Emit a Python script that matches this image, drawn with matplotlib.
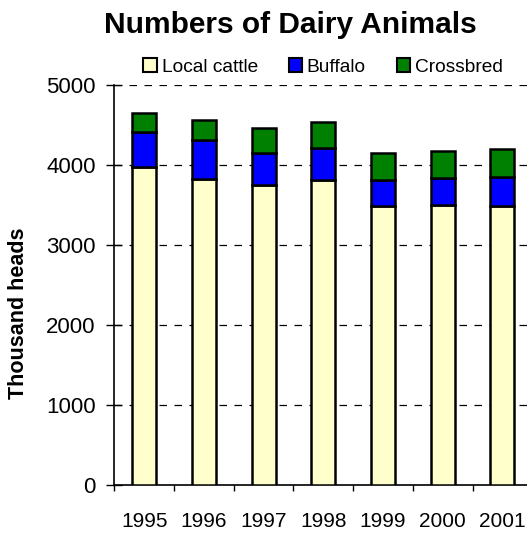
import matplotlib
matplotlib.use("Agg")
import matplotlib.pyplot as plt
import numpy as np
from matplotlib.patches import Patch

years = ["1995", "1996", "1997", "1998", "1999", "2000", "2001"]
local_cattle = [3975, 3833, 3758, 3820, 3495, 3508, 3491]
buffalo = [437, 487, 400, 396, 325, 333, 367]
crossbred = [238, 242, 308, 321, 338, 338, 342]

plt.rcParams['font.family'] = ['Liberation Sans', 'DejaVu Sans']

W, H = 527, 534
fig = plt.figure(figsize=(W/100, H/100), dpi=100)
left, right, top, bottom = 114.3, 532.3, 85.3, 485.3
ax = fig.add_axes([left/W, 1-bottom/H, (right-left)/W, (bottom-top)/H])

x = np.arange(len(years))
lc = np.array(local_cattle)
bf = np.array(buffalo)
cb = np.array(crossbred)
kw = dict(width=0.4, edgecolor='black', linewidth=1.8, zorder=3)
ax.bar(x, lc, color='#FFFFCC', **kw)
ax.bar(x, bf, bottom=lc, color='#0000FF', **kw)
ax.bar(x, cb, bottom=lc+bf, color='#008000', **kw)

ax.set_xlim(-0.5, len(years)-0.5)
ax.set_ylim(0, 5000)
ax.set_yticks([0, 1000, 2000, 3000, 4000, 5000])
ax.set_yticklabels(['0', '1000', '2000', '3000', '4000', '5000'], fontsize=16)
for yv in [1000, 2000, 3000, 4000, 5000]:
    ax.axhline(yv, color='black', linestyle=(0, (6, 6)), linewidth=0.9, zorder=1)

ax.set_xticks(np.arange(len(years)+1) - 0.5)
ax.set_xticklabels([])
ax.set_xticks(x, minor=True)
ax.set_xticklabels(years, minor=True, fontsize=15)
ax.tick_params(axis='x', which='minor', length=0, pad=19)
ax.tick_params(axis='x', which='major', direction='out', length=4.5, width=1)
ax.tick_params(axis='y', direction='inout', length=11, width=1, pad=8)

for s in ['top', 'right']:
    ax.spines[s].set_visible(False)
ax.spines['left'].set_linewidth(1.2)
ax.spines['bottom'].set_linewidth(1.2)

fig.text(19/W, 1-313/H, 'Thousand heads', fontsize=15.5, fontweight='bold',
         rotation=90, ha='center', va='center')
fig.text(290/W, 1-25/H, 'Numbers of Dairy Animals', fontsize=21.5, fontweight='bold',
         ha='center', va='center')

handles = [Patch(facecolor='#FFFFCC', edgecolor='black', linewidth=1.5),
           Patch(facecolor='#0000FF', edgecolor='black', linewidth=1.5),
           Patch(facecolor='#008000', edgecolor='black', linewidth=1.5)]
fig.legend(handles, ['Local cattle', 'Buffalo', 'Crossbred'], loc='center',
           bbox_to_anchor=(323/W, 1-67/H), ncol=3, frameon=False, fontsize=13.8,
           handlelength=0.7, handleheight=0.7, handletextpad=0.25, columnspacing=1.6,
           borderaxespad=0, borderpad=0)

fig.savefig('out.png', dpi=100)
